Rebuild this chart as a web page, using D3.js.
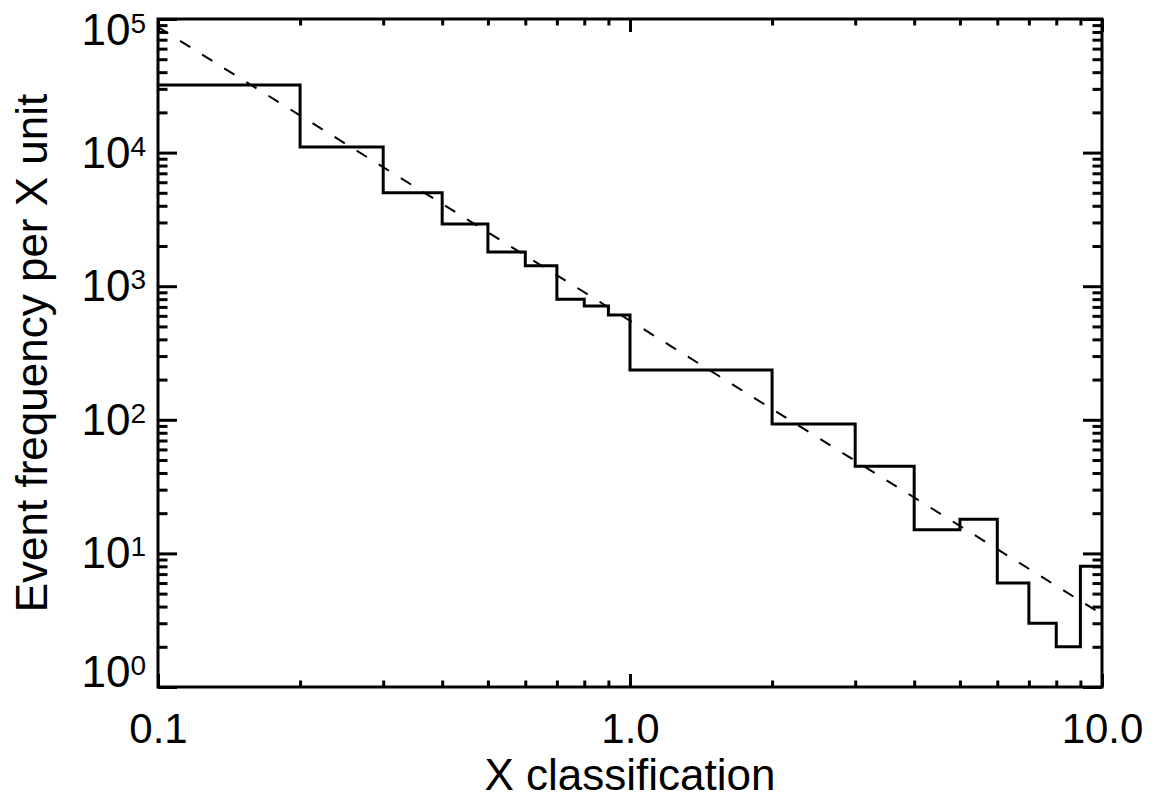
<!DOCTYPE html>
<html>
<head>
	<meta charset="utf-8" />
	<title>Event frequency per X unit</title>
	<script src="https://cdnjs.cloudflare.com/ajax/libs/d3/7.8.5/d3.min.js"></script>
	<style>
		body { margin: 0; background: #fff; }
		svg { display: block; font-family: "Liberation Sans", Arial, Helvetica, sans-serif; }
		.tick line { stroke: #000; stroke-width: 3; }
	</style>
</head>
<body>
	<div id="chart"></div>
	<script>
		// histogram bins (lower edges) and heights
		const binEdges = [0.1, 0.2, 0.3, 0.4, 0.5, 0.6, 0.7, 0.8, 0.9, 1, 2, 3, 4, 5, 6, 7, 8, 9, 10];
		const binCounts = [32000, 11000, 5000, 2920, 1800, 1420, 800, 710, 610, 236, 93, 45, 15, 18, 6, 3, 2, 8];

		// dashed power-law fit, end points
		const fitX = [0.1, 10];
		const fitY = [87000, 3.5];

		const xTickValues = [0.1, 1, 10];
		const xTickLabels = ["0.1", "1.0", "10.0"];
		const xMinorValues = [0.2, 0.3, 0.4, 0.5, 0.6, 0.7, 0.8, 0.9, 2, 3, 4, 5, 6, 7, 8, 9];
		const yTickExponents = [0, 1, 2, 3, 4, 5];

		const width = 1155, height = 800;
		const margin = { top: 19, right: 53, bottom: 113, left: 158 };
		const plotW = width - margin.left - margin.right;
		const plotH = height - margin.top - margin.bottom;

		const svg = d3.select("#chart").append("svg")
			.attr("width", width)
			.attr("height", height);
		const g = svg.append("g").attr("transform", `translate(${margin.left},${margin.top})`);

		const x = d3.scaleLog().domain([0.1, 10]).range([0, plotW]);
		const y = d3.scaleLog().domain([1, 1e5]).range([plotH, 0]);

		const yMajor = yTickExponents.map(e => Math.pow(10, e));
		const yMinor = [];
		yTickExponents.slice(0, -1).forEach(e => {
			for (let k = 2; k <= 9; k++) yMinor.push(k * Math.pow(10, e));
		});

		// IDL-style tick lengths: 2% of the plot size
		const xMajLen = 13, xMinLen = 6.5, yMajLen = 19, yMinLen = 9.5;

		function addAxis(axis, tf) {
			const a = g.append("g").attr("transform", tf).call(axis);
			a.select(".domain").remove();
			return a;
		}

		// bottom
		const xb = addAxis(d3.axisBottom(x).tickValues(xTickValues)
			.tickFormat((d, i) => xTickLabels[i]).tickSize(-xMajLen).tickPadding(26), `translate(0,${plotH})`);
		xb.selectAll("text").attr("font-size", 42).attr("fill", "#000");
		addAxis(d3.axisBottom(x).tickValues(xMinorValues).tickFormat("").tickSize(-xMinLen), `translate(0,${plotH})`);
		// top
		addAxis(d3.axisTop(x).tickValues(xTickValues).tickFormat("").tickSize(-xMajLen), "translate(0,0)");
		addAxis(d3.axisTop(x).tickValues(xMinorValues).tickFormat("").tickSize(-xMinLen), "translate(0,0)");
		// left
		addAxis(d3.axisLeft(y).tickValues(yMajor).tickFormat("").tickSize(-yMajLen), "translate(0,0)");
		addAxis(d3.axisLeft(y).tickValues(yMinor).tickFormat("").tickSize(-yMinLen), "translate(0,0)");
		// right
		addAxis(d3.axisRight(y).tickValues(yMajor).tickFormat("").tickSize(-yMajLen), `translate(${plotW},0)`);
		addAxis(d3.axisRight(y).tickValues(yMinor).tickFormat("").tickSize(-yMinLen), `translate(${plotW},0)`);

		// y labels 10^n, kept inside the plot height like IDL does
		const yLab = g.append("g").attr("font-size", 44).attr("fill", "#000").attr("text-anchor", "end");
		yTickExponents.forEach(e => {
			const base = Math.min(Math.max(y(Math.pow(10, e)) + 15, 26), plotH);
			const t = yLab.append("text").attr("x", -12).attr("y", base);
			t.append("tspan").text("10");
			t.append("tspan").attr("font-size", 28).attr("dy", -12).text(e);
		});

		// frame
		g.append("rect")
			.attr("width", plotW).attr("height", plotH)
			.attr("fill", "none").attr("stroke", "#000").attr("stroke-width", 3);

		// dashed fit
		const fitLine = d3.line().x(d => x(d[0])).y(d => y(d[1]));
		g.append("path")
			.datum(fitX.map((v, i) => [v, fitY[i]]))
			.attr("d", fitLine)
			.attr("fill", "none").attr("stroke", "#000")
			.attr("stroke-width", 2).attr("stroke-dasharray", "12,14");

		// histogram steps
		const steps = binCounts.map((c, i) => [binEdges[i], c]);
		steps.push([binEdges[binEdges.length - 1], binCounts[binCounts.length - 1]]);
		g.append("path")
			.datum(steps)
			.attr("d", d3.line().x(d => x(d[0])).y(d => y(d[1])).curve(d3.curveStepAfter))
			.attr("fill", "none").attr("stroke", "#000")
			.attr("stroke-width", 3).attr("stroke-linejoin", "miter");

		// axis titles
		svg.append("text")
			.attr("x", margin.left + plotW / 2).attr("y", 790)
			.attr("text-anchor", "middle").attr("font-size", 44)
			.text("X classification");
		svg.append("text")
			.attr("transform", `translate(47,${margin.top + plotH / 2}) rotate(-90)`)
			.attr("text-anchor", "middle").attr("font-size", 44)
			.text("Event frequency per X unit");
	</script>
</body>
</html>
